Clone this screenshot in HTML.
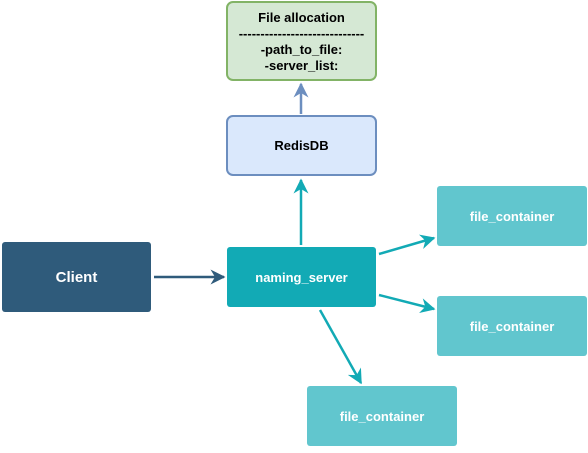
<!DOCTYPE html>
<html><head><style>
body{margin:0;width:588px;height:448px;background:#fff;font-family:"Liberation Sans",sans-serif;}
</style></head><body>
<svg width="588" height="448" xmlns="http://www.w3.org/2000/svg" font-family="Liberation Sans, sans-serif" font-weight="bold" font-size="13">
<defs>
<marker id="t" viewBox="0 0 10 10" refX="9" refY="5" markerWidth="6" markerHeight="6" orient="auto" markerUnits="strokeWidth"><path d="M0,0 L10,5 L0,10 L3,5 z" fill="#12aab5"/></marker>
<marker id="d" viewBox="0 0 10 10" refX="9" refY="5" markerWidth="6" markerHeight="6" orient="auto" markerUnits="strokeWidth"><path d="M0,0 L10,5 L0,10 L3,5 z" fill="#2f5b7b"/></marker>
<marker id="b" viewBox="0 0 10 10" refX="9" refY="5" markerWidth="6" markerHeight="6" orient="auto" markerUnits="strokeWidth"><path d="M0,0 L10,5 L0,10 L3,5 z" fill="#6c8ebf"/></marker>
</defs>
<rect x="227" y="2" width="149" height="78" rx="6" fill="#d5e8d4" stroke="#82b366" stroke-width="2"/>
<text x="301.5" y="22" text-anchor="middle">File allocation</text>
<text x="301.5" y="38" text-anchor="middle">-----------------------------</text>
<text x="301.5" y="54" text-anchor="middle">-path_to_file:</text>
<text x="301.5" y="70" text-anchor="middle">-server_list:</text>
<rect x="227" y="116" width="149" height="59" rx="6" fill="#dae8fc" stroke="#6c8ebf" stroke-width="2"/>
<text x="301.5" y="150" text-anchor="middle">RedisDB</text>
<rect x="2" y="242" width="149" height="70" rx="3" fill="#2f5b7b"/>
<text x="76.5" y="282" text-anchor="middle" fill="#fff" font-size="15">Client</text>
<rect x="227" y="247" width="149" height="60" rx="3" fill="#12aab5"/>
<text x="301.5" y="282" text-anchor="middle" fill="#fff">naming_server</text>
<rect x="437" y="186" width="150" height="60" rx="3" fill="#61c6ce"/>
<text x="512" y="221" text-anchor="middle" fill="#fff">file_container</text>
<rect x="437" y="296" width="150" height="60" rx="3" fill="#61c6ce"/>
<text x="512" y="331" text-anchor="middle" fill="#fff">file_container</text>
<rect x="307" y="386" width="150" height="60" rx="3" fill="#61c6ce"/>
<text x="382" y="421" text-anchor="middle" fill="#fff">file_container</text>
<g stroke-width="2.5" fill="none">
<line x1="154" y1="277" x2="224" y2="277" stroke="#2f5b7b" marker-end="url(#d)"/>
<line x1="301" y1="245" x2="301" y2="180" stroke="#12aab5" marker-end="url(#t)"/>
<line x1="301" y1="114" x2="301" y2="84" stroke="#6c8ebf" marker-end="url(#b)"/>
<line x1="379" y1="254" x2="434" y2="238" stroke="#12aab5" marker-end="url(#t)"/>
<line x1="379" y1="295" x2="434" y2="309" stroke="#12aab5" marker-end="url(#t)"/>
<line x1="320" y1="310" x2="361" y2="383" stroke="#12aab5" marker-end="url(#t)"/>
</g>
</svg>
</body></html>
